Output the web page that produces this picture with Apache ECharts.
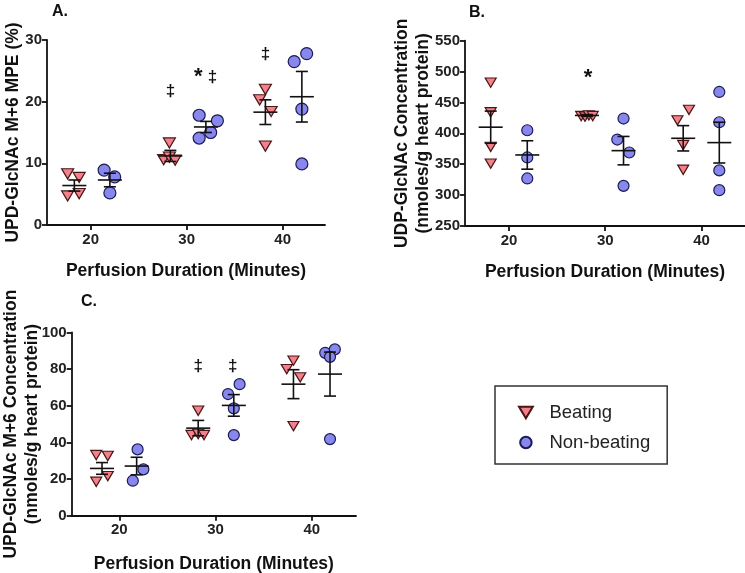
<!DOCTYPE html>
<html>
<head>
<meta charset="utf-8">
<script src="https://cdn.jsdelivr.net/npm/echarts@6/dist/echarts.min.js"></script>
<style>
  html, body { margin: 0; padding: 0; background: #fff; }
  #chart { width: 745px; height: 573px; }
</style>
</head>
<body>
<div id="chart"></div>
<script>
// shared ticks
var xTicks = [20, 30, 40];

// A. UPD-GlcNAc M+6 MPE (%)  -- points are [minutes (jittered), value]
var aBeating = [[17.6, 8.3], [18.8, 7.7], [17.6, 4.7], [18.8, 5.1],
                [28.2, 13.3], [27.6, 10.6], [28.2, 11.0], [28.8, 10.5],
                [38.2, 22.0], [37.6, 20.3], [38.8, 18.4], [38.2, 12.8]];
var aNonBeating = [[21.4, 8.9], [22.5, 7.8], [22.0, 5.2],
                   [31.3, 17.8], [33.2, 16.9], [31.3, 14.1], [32.5, 15.0],
                   [41.2, 26.5], [42.5, 27.8], [42.0, 18.8], [42.0, 9.9]];
var aBeatX = [18.3, 28.3, 38.2];
var aBeatMean = [6.4, 11.2, 18.3];
var aBeatSem = [0.9, 0.9, 2.0];
var aNonX = [22.0, 32.0, 42.0];
var aNonMean = [7.3, 15.9, 20.8];
var aNonSem = [1.1, 0.9, 4.1];
var aMarks = [[28.3, 21.6], [31.2, 24.0], [32.7, 24.0], [38.2, 27.6]];
var aMarkText = ['‡', '*', '‡', '‡'];

// B. UDP-GlcNAc concentration
var bBeating = [[18.1, 482], [18.1, 434], [18.1, 378], [18.1, 351],
                [27.5, 428], [27.9, 427], [28.3, 429], [28.7, 428],
                [38.7, 438], [37.5, 421], [38.1, 381], [38.1, 341]];
var bNonBeating = [[21.9, 405], [21.9, 361], [21.9, 327],
                   [31.9, 424], [31.25, 390], [32.5, 369], [31.9, 315],
                   [41.85, 467], [41.85, 418], [41.85, 340], [41.85, 308]];
var bBeatX = [18.1, 28.1, 38.1];
var bBeatMean = [410, 429, 392];
var bBeatSem = [26, 1.5, 20.5];
var bNonX = [21.9, 31.9, 41.85];
var bNonMean = [365, 372, 385];
var bNonSem = [23, 23, 33];
var bMarks = [[28.2, 490]];
var bMarkText = ['*'];

// C. UPD-GlcNAc M+6 concentration
var cBeating = [[17.6, 33.1], [18.8, 32.6], [17.6, 18.5], [18.8, 21.6],
                [28.2, 57.3], [27.5, 44.0], [28.2, 44.6], [28.8, 44.0],
                [38.1, 84.6], [37.4, 80.0], [38.8, 75.5], [38.1, 48.9]];
var cNonBeating = [[21.9, 36.2], [22.5, 25.3], [21.4, 19.1],
                   [32.5, 71.8], [31.3, 66.4], [31.9, 58.6], [31.9, 44.0],
                   [41.4, 88.9], [42.4, 90.8], [41.9, 86.7], [41.9, 41.8]];
var cBeatX = [18.2, 28.2, 38.1];
var cBeatMean = [25.8, 47.8, 71.8];
var cBeatSem = [3.2, 4.2, 7.9];
var cNonX = [21.8, 31.9, 41.9];
var cNonMean = [27.1, 60.2, 77.3];
var cNonSem = [4.8, 5.9, 12.0];
var cMarks = [[28.2, 81.7], [31.8, 81.7]];
var cMarkText = ['‡', '‡'];

var font = 'Liberation Sans, Arial, sans-serif';
var triangleDown = 'path://M0,0 L12,0 L6,10 Z';

var chart = echarts.init(document.getElementById('chart'));

function zip3(a, b, c) {
  return a.map(function (v, i) { return [v, b[i], c[i]]; });
}

// mean line + SEM whiskers
function errorBar(params, api) {
  var x = api.value(0), m = api.value(1), s = api.value(2);
  var c = api.coord([x, m]);
  var hi = api.coord([x, m + s]);
  var lo = api.coord([x, m - s]);
  var st = { stroke: '#111', lineWidth: 1.6 };
  return {
    type: 'group',
    children: [
      { type: 'line', shape: { x1: c[0] - 12, y1: c[1], x2: c[0] + 12, y2: c[1] }, style: st },
      { type: 'line', shape: { x1: hi[0], y1: hi[1], x2: lo[0], y2: lo[1] }, style: st },
      { type: 'line', shape: { x1: hi[0] - 6, y1: hi[1], x2: hi[0] + 6, y2: hi[1] }, style: st },
      { type: 'line', shape: { x1: lo[0] - 6, y1: lo[1], x2: lo[0] + 6, y2: lo[1] }, style: st }
    ]
  };
}

function markSeries(idx, pts, texts) {
  return {
    type: 'custom', xAxisIndex: idx, yAxisIndex: idx, z: 5,
    data: pts,
    renderItem: function (params, api) {
      var p = api.coord([api.value(0), api.value(1)]);
      var t = texts[params.dataIndex];
      return {
        type: 'text', x: p[0], y: p[1],
        style: {
          text: t, fill: '#111', align: 'center', verticalAlign: 'middle',
          font: 'bold ' + (t === '*' ? 22 : 17) + 'px ' + font
        }
      };
    }
  };
}

function xAxis(idx, min, max, gap) {
  return {
    type: 'value', gridIndex: idx, min: min, max: max,
    splitLine: { show: false },
    axisLine: { lineStyle: { color: '#111', width: 1.8 } },
    axisTick: { customValues: xTicks, length: 5, lineStyle: { color: '#111', width: 1.8 } },
    axisLabel: { customValues: xTicks, color: '#222', fontWeight: 'bold', fontSize: 15, fontFamily: font, margin: 7 },
    name: 'Perfusion Duration (Minutes)', nameLocation: 'middle', nameGap: gap, nameMoveOverlap: false,
    nameTextStyle: { color: '#111', fontWeight: 'bold', fontSize: 17.5, fontFamily: font }
  };
}

function yAxis(idx, min, max, step, name, gap) {
  return {
    type: 'value', gridIndex: idx, min: min, max: max, interval: step,
    splitLine: { show: false },
    axisLine: { show: true, lineStyle: { color: '#111', width: 1.8 } },
    axisTick: { show: true, length: 5, lineStyle: { color: '#111', width: 1.8 } },
    axisLabel: { color: '#222', fontWeight: 'bold', fontSize: 15, fontFamily: font, margin: 5 },
    name: name, nameLocation: 'middle', nameGap: gap, nameMoveOverlap: false,
    nameTextStyle: { color: '#111', fontWeight: 'bold', fontSize: 17.5, lineHeight: 21, fontFamily: font }
  };
}

function panelSeries(idx, beat, non, bx, bm, bs, nx, nm, ns, size) {
  return [
    {
      name: 'Beating', type: 'scatter', xAxisIndex: idx, yAxisIndex: idx,
      symbol: triangleDown, symbolSize: [size, size * 0.85], data: beat, z: 2,
      itemStyle: { color: '#F2818B', borderColor: '#4a1515', borderWidth: 1.2, opacity: 1 }
    },
    {
      name: 'Non-beating', type: 'scatter', xAxisIndex: idx, yAxisIndex: idx,
      symbol: 'circle', symbolSize: size, data: non, z: 2,
      itemStyle: { color: '#8787EE', borderColor: '#1c1c55', borderWidth: 1.2, opacity: 1 }
    },
    { type: 'custom', xAxisIndex: idx, yAxisIndex: idx, z: 4, renderItem: errorBar, data: zip3(bx, bm, bs) },
    { type: 'custom', xAxisIndex: idx, yAxisIndex: idx, z: 4, renderItem: errorBar, data: zip3(nx, nm, ns) }
  ];
}

var option = {
  animation: false,
  backgroundColor: '#fff',
  title: [
    { text: 'A.', left: 52, top: 4, padding: 0, textStyle: { fontSize: 16, fontWeight: 'bold', color: '#111', fontFamily: font } },
    { text: 'B.', left: 469, top: 5, padding: 0, textStyle: { fontSize: 16, fontWeight: 'bold', color: '#111', fontFamily: font } },
    { text: 'C.', left: 81, top: 294, padding: 0, textStyle: { fontSize: 16, fontWeight: 'bold', color: '#111', fontFamily: font } }
  ],
  legend: {
    orient: 'vertical', left: 495, top: 386,
    data: ['Beating', 'Non-beating'],
    itemWidth: 37, itemHeight: 11.5, itemGap: 11,
    padding: [17, 17, 12, 23],
    borderColor: '#333', borderWidth: 1.5, borderRadius: 0,
    textStyle: { fontSize: 18.5, color: '#222', fontFamily: font }
  },
  grid: [
    { left: 47, top: 40, width: 278, height: 185, outerBoundsMode: 'none' },
    { left: 465, top: 40.7, width: 280, height: 185.3, outerBoundsMode: 'none' },
    { left: 71.7, top: 332.5, width: 284.3, height: 183.2, outerBoundsMode: 'none' }
  ],
  xAxis: [
    xAxis(0, 15.45, 44.41, 37),
    xAxis(1, 15.43, 44.52, 37),
    xAxis(2, 15.05, 44.6, 39)
  ],
  yAxis: [
    yAxis(0, 0, 30, 10, 'UPD-GlcNAc M+6 MPE (%)', 23),
    yAxis(1, 250, 550, 50, 'UDP-GlcNAc Concentration\n(nmoles/g heart protein)', 31),
    yAxis(2, 0, 100, 20, 'UPD-GlcNAc M+6 Concentration\n(nmoles/g heart protein)', 29)
  ],
  series: []
    .concat(panelSeries(0, aBeating, aNonBeating, aBeatX, aBeatMean, aBeatSem, aNonX, aNonMean, aNonSem, 12))
    .concat(panelSeries(1, bBeating, bNonBeating, bBeatX, bBeatMean, bBeatSem, bNonX, bNonMean, bNonSem, 11))
    .concat(panelSeries(2, cBeating, cNonBeating, cBeatX, cBeatMean, cBeatSem, cNonX, cNonMean, cNonSem, 11))
    .concat([markSeries(0, aMarks, aMarkText), markSeries(1, bMarks, bMarkText), markSeries(2, cMarks, cMarkText)])
};

chart.setOption(option);
</script>
</body>
</html>
